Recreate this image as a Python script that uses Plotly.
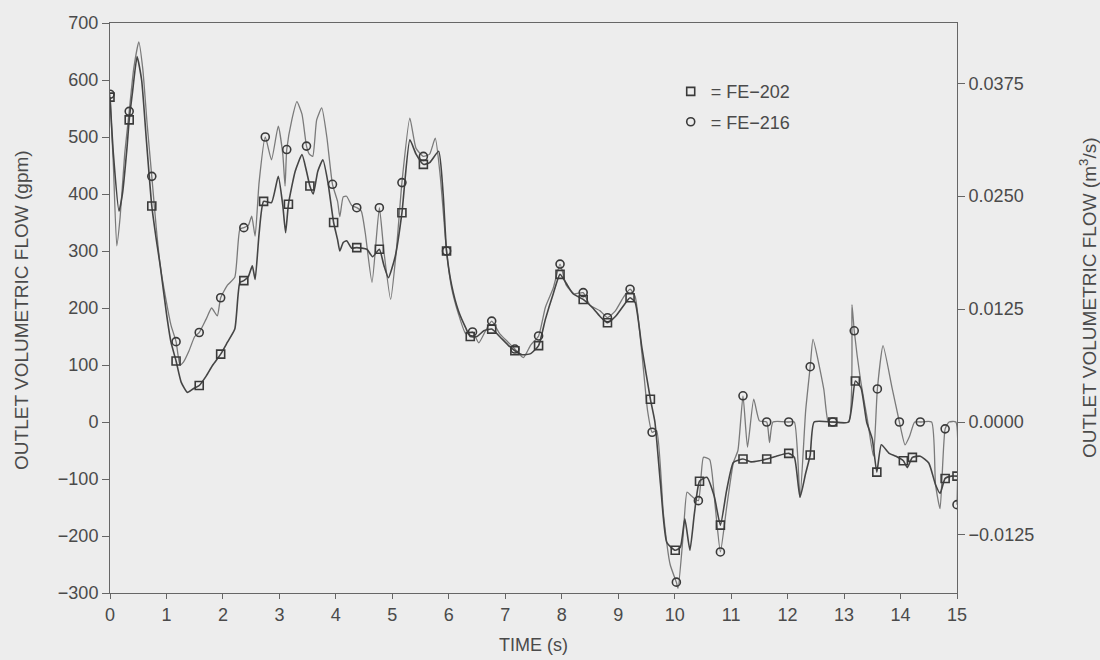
import plotly.graph_objects as go

# ---- data (time in s, flow in gpm) ----
t_202 = [0.00, 0.06, 0.16, 0.22, 0.30, 0.34, 0.40, 0.48, 0.56, 0.64, 0.74, 0.82, 0.89, 1.00, 1.08,
         1.17, 1.26, 1.37, 1.47, 1.58, 1.70, 1.82, 1.96, 2.08, 2.21, 2.30, 2.37, 2.45, 2.52, 2.57,
         2.64, 2.72, 2.86, 2.98, 3.06, 3.11, 3.16, 3.28, 3.40, 3.48, 3.54, 3.60, 3.68, 3.77, 3.86,
         3.96, 4.03, 4.07, 4.13, 4.19, 4.28, 4.37, 4.55, 4.65, 4.77, 4.85, 4.93, 5.05, 5.17, 5.31,
         5.42, 5.55, 5.66, 5.82, 5.90, 5.96, 6.05, 6.17, 6.30, 6.38, 6.50, 6.62, 6.76, 6.90, 7.05,
         7.17, 7.30, 7.45, 7.59, 7.71, 7.85, 7.97, 8.10, 8.20, 8.38, 8.55, 8.68, 8.81, 8.95, 9.10,
         9.21, 9.30, 9.42, 9.57, 9.65, 9.75, 9.86, 10.01, 10.10, 10.18, 10.27, 10.35, 10.44, 10.57,
         10.70, 10.81, 10.92, 11.04, 11.21, 11.35, 11.50, 11.63, 11.80, 12.02, 12.12, 12.22, 12.32,
         12.40, 12.47, 12.80, 13.08, 13.20, 13.30, 13.40, 13.50, 13.58, 13.66, 13.80, 13.92, 14.05,
         14.12, 14.21, 14.35, 14.50, 14.62, 14.70, 14.79, 14.90, 15.00]
q_202 = [570, 470, 370, 400, 480, 530, 580, 641, 600, 500, 379, 320, 274, 190, 140,
         107, 70, 52, 58, 64, 80, 100, 119, 140, 163, 245, 248, 255, 274, 250,
         330, 387, 385, 431, 380, 332, 382, 440, 469, 440, 414, 400, 440, 460, 420,
         350, 320, 300, 315, 318, 305, 306, 303, 290, 303, 275, 253, 290, 367, 495,
         470, 452, 455, 475, 400, 300, 240, 195, 165, 150, 150, 160, 163, 150, 135,
         125, 118, 120, 134, 180, 225, 259, 240, 225, 215, 200, 185, 174, 185, 205,
         218, 210, 130, 40, 0, -110, -211, -225, -220, -170, -225, -160, -104, -97,
         -130, -181, -120, -71, -65, -70, -68, -65, -60, -55, -62, -132, -90,
         -58, 0, 0, 0, 72, 60, 0, -30, -88, -40, -55, -60, -68,
         -80, -62, -60, -72, -110, -125, -99, -95, -95]
mark_202 = [0.00, 0.34, 0.74, 1.17, 1.58, 1.96, 2.37, 2.72, 3.16, 3.54, 3.96, 4.37, 4.77, 5.17,
            5.55, 5.96, 6.38, 6.76, 7.17, 7.59, 7.97, 8.38, 8.81, 9.21, 9.57, 10.01, 10.44, 10.81,
            11.21, 11.63, 12.02, 12.40, 12.80, 13.20, 13.58, 14.05, 14.21, 14.79, 15.00]

t_216 = [0.00, 0.06, 0.12, 0.18, 0.26, 0.34, 0.42, 0.51, 0.58, 0.66, 0.74, 0.82, 0.89, 1.00, 1.08,
         1.17, 1.24, 1.30, 1.40, 1.50, 1.58, 1.70, 1.80, 1.90, 1.96, 2.08, 2.21, 2.30, 2.37, 2.45,
         2.51, 2.57, 2.64, 2.75, 2.86, 2.98, 3.06, 3.10, 3.13, 3.22, 3.31, 3.40, 3.48, 3.53, 3.59,
         3.66, 3.75, 3.84, 3.94, 4.03, 4.07, 4.13, 4.19, 4.28, 4.37, 4.45, 4.52, 4.64, 4.77, 4.85,
         4.97, 5.07, 5.17, 5.31, 5.42, 5.55, 5.66, 5.76, 5.85, 5.96, 6.05, 6.17, 6.30, 6.42, 6.53,
         6.65, 6.76, 6.90, 7.05, 7.17, 7.32, 7.45, 7.59, 7.71, 7.85, 7.97, 8.08, 8.22, 8.38, 8.50,
         8.68, 8.81, 8.95, 9.10, 9.21, 9.30, 9.42, 9.52, 9.60, 9.68, 9.80, 9.92, 10.03, 10.06, 10.15,
         10.22, 10.30, 10.42, 10.51, 10.62, 10.72, 10.81, 10.92, 11.04, 11.12, 11.21, 11.29, 11.40,
         11.50, 11.63, 11.68, 11.74, 12.02, 12.12, 12.22, 12.32, 12.40, 12.45, 12.64, 12.72, 12.80,
         13.08, 13.14, 13.18, 13.29, 13.42, 13.52, 13.59, 13.69, 13.85, 13.98, 14.08, 14.16, 14.25,
         14.35, 14.55, 14.62, 14.70, 14.79, 14.86, 14.98, 15.00]
q_216 = [575, 450, 309, 360, 470, 545, 620, 667, 620, 520, 431, 340, 274, 210, 170,
         141, 100, 105, 125, 150, 157, 180, 200, 186, 218, 240, 254, 338, 341, 345,
         361, 326, 420, 500, 460, 519, 470, 414, 478, 530, 562, 540, 484, 470, 466,
         530, 551, 500, 417, 387, 360, 395, 396, 380, 376, 370, 332, 245, 376, 300,
         215, 300, 420, 533, 480, 466, 470, 498, 430, 300, 235, 190, 155, 158, 139,
         160, 177, 155, 140, 128, 113, 135, 151, 201, 235, 277, 240, 225, 227, 205,
         195, 183, 195, 220, 233, 220, 120, 20, -18, -15, -160, -250, -281, -292, -200,
         -123, -130, -138, -62, -66, -150, -228, -150, -71, -50, 46, -44, 40,
         2, 0, -36, 0, 0, 0, -132, 20, 97, 145, 58, 0, 0,
         0, 206, 160, 75, 0, -60, 58, 134, 60, 0, -40, -25, 0,
         0, 0, -110, -152, -12, 0, 0, -145]
mark_216 = [0.00, 0.34, 0.74, 1.17, 1.58, 1.96, 2.37, 2.75, 3.13, 3.48, 3.94, 4.37, 4.77, 5.17,
            5.55, 5.96, 6.42, 6.76, 7.17, 7.59, 7.97, 8.38, 8.81, 9.21, 9.60, 10.03, 10.42, 10.81,
            11.21, 11.63, 12.02, 12.40, 12.80, 13.18, 13.59, 13.98, 14.35, 14.79, 15.00]

x_ticks = list(range(0, 16))
y_ticks = list(range(-300, 701, 100))
si_ticks = [-0.0125, 0.0, 0.0125, 0.0250, 0.0375]
si_labels = ["\u22120.0125", "0.0000", "0.0125", "0.0250", "0.0375"]
GPM_TO_M3S = 6.309e-5

FONT = "Liberation Sans, Arial, sans-serif"
TXT = "#4a4a4a"
AX = "#666666"
BG = "#ededed"

d202 = dict(zip(t_202, q_202))
d216 = dict(zip(t_216, q_216))

fig = go.Figure()
fig.add_trace(go.Scatter(x=t_216, y=q_216, mode="lines", showlegend=False, hoverinfo="skip",
                         line=dict(color="#7a7a7a", width=1.3, shape="spline", smoothing=0.5)))
fig.add_trace(go.Scatter(x=t_202, y=q_202, mode="lines", showlegend=False, hoverinfo="skip",
                         line=dict(color="#454545", width=1.6, shape="spline", smoothing=0.5)))
fig.add_trace(go.Scatter(x=mark_202, y=[d202[t] for t in mark_202], mode="markers",
                         name="= FE\u2212202", legendgroup="a",
                         marker=dict(symbol="square-open", size=8, color="#3a3a3a",
                                     line=dict(width=1.6, color="#3a3a3a"))))
fig.add_trace(go.Scatter(x=mark_216, y=[d216[t] for t in mark_216], mode="markers",
                         name="= FE\u2212216", legendgroup="b",
                         marker=dict(symbol="circle-open", size=8, color="#3a3a3a",
                                     line=dict(width=1.6, color="#3a3a3a"))))
# same series on the SI axis (invisible) so the right axis is bound to data
fig.add_trace(go.Scatter(x=t_202, y=[v * GPM_TO_M3S for v in q_202], yaxis="y2", mode="lines",
                         showlegend=False, hoverinfo="skip", opacity=0,
                         line=dict(width=0)))

fig.update_layout(
    width=1100, height=660,
    margin=dict(l=110, r=143, t=23, b=67),
    paper_bgcolor=BG, plot_bgcolor=BG,
    font=dict(family=FONT, size=18, color=TXT),
    showlegend=True,
    legend=dict(x=0.662, y=0.912, xanchor="left", yanchor="top", bgcolor="rgba(0,0,0,0)",
                font=dict(size=18, color=TXT), tracegroupgap=4, itemwidth=30),
    xaxis=dict(range=[0, 15], tickvals=x_ticks, ticks="outside", ticklen=5, tickwidth=1,
               tickcolor=AX, showline=True, linecolor=AX, linewidth=1, mirror=True,
               showgrid=False, zeroline=False, tickfont=dict(size=18, color=TXT)),
    yaxis=dict(range=[-300, 700], tickvals=y_ticks, ticks="outside", ticklen=7, tickwidth=1,
               tickcolor=AX, showline=True, linecolor=AX, linewidth=1, mirror=True,
               showgrid=False, zeroline=False, tickfont=dict(size=18, color=TXT)),
    yaxis2=dict(overlaying="y", side="right", range=[-300 * GPM_TO_M3S, 700 * GPM_TO_M3S],
                tickvals=si_ticks, ticktext=si_labels, ticks="outside", ticklen=7, tickwidth=1,
                tickcolor=AX, showline=False, showgrid=False, zeroline=False,
                tickfont=dict(size=18, color=TXT)),
    annotations=[
        dict(text="OUTLET VOLUMETRIC FLOW (gpm)", xref="paper", yref="paper",
             x=-0.104, y=0.4965, textangle=-90, showarrow=False,
             xanchor="center", yanchor="middle", font=dict(size=19, color=TXT)),
        dict(text="OUTLET VOLUMETRIC FLOW (m<sup>3</sup>/s)", xref="paper", yref="paper",
             x=1.1547, y=0.5175, textangle=-90, showarrow=False,
             xanchor="center", yanchor="middle", font=dict(size=19, color=TXT)),
        dict(text="TIME (s)", xref="paper", yref="paper", x=0.5, y=-0.091,
             showarrow=False, xanchor="center", yanchor="middle",
             font=dict(size=18, color=TXT)),
    ],
)

fig.write_html("out.html")
